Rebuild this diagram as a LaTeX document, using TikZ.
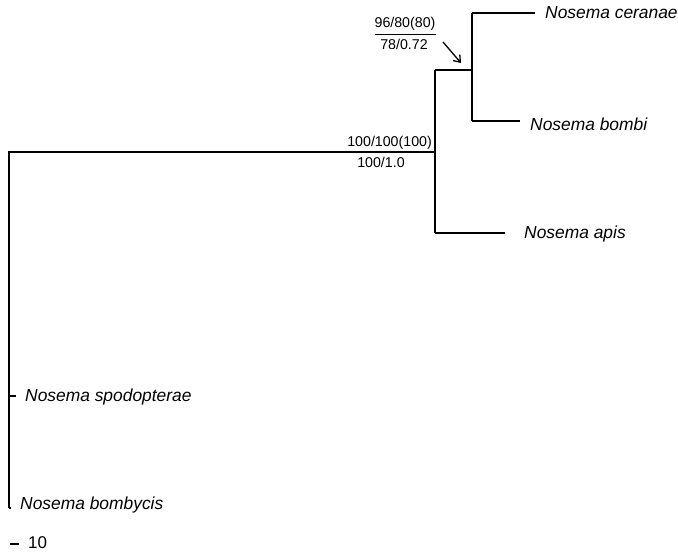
\documentclass[tikz,border=0pt]{standalone}
\usepackage{fontspec}
\usetikzlibrary{arrows.meta}
\setmainfont{Liberation Sans}
\begin{document}
\begin{tikzpicture}[x=1pt,y=-1pt,
  br/.style={line width=1.2pt},
  taxon/.style={anchor=west,inner sep=0pt,font=\fontsize{17.4}{17.4}\selectfont\itshape},
  sup/.style={inner sep=0pt,font=\fontsize{14.2}{14.2}\selectfont}]
\useasboundingbox (0,0) rectangle (678,552);
% coordinates
\coordinate (r) at (9,152);
\coordinate (rb) at (9,508);
\coordinate (a) at (435,152);
\coordinate (at) at (435,70);
\coordinate (ab) at (435,233);
\coordinate (c) at (472,70);
\coordinate (ct) at (472,13);
\coordinate (cb) at (472,121);
\coordinate (sp) at (9,396);
% branches
\draw[br] (rb) -- (r) -- (a);
\draw[br] (at) -- (ab);
\draw[br] (at) -- (c);
\draw[br] (ct) -- (cb);
\node[taxon] (cer) at (545,13) {Nosema ceranae};
\node[taxon] (bom) at (530,124) {Nosema bombi};
\node[taxon] (api) at (524,234) {Nosema apis};
\node[taxon] (spo) at (25,397) {Nosema spodopterae};
\node[taxon] (byc) at (20,505) {Nosema bombycis};
\draw[br] (ct) -- (535,13);
\draw[br] (cb) -- (520,121);
\draw[br] (ab) -- (505,233);
\draw[br] (sp) -- (16,396);
\draw[br] (rb) -- (11,508);
% support values
\node[sup,anchor=east] (s1) at (432,143) {100/100(100)};
\node[sup] (s2) at (381,162) {100/1.0};
\node[sup] (s3) at (405,24) {96/80(80)};
\node[sup] (s4) at (404,44) {78/0.72};
\draw[line width=0.9pt] (375,34) -- (436,34);
\draw[line width=1.3pt,-{Straight Barb[length=6pt,width=9pt]}] (443,42) -- (461,63);
% scale bar
\draw[br] (10,544) -- (19,544);
\node[sup,anchor=west,font=\fontsize{17}{17}\selectfont] (sc) at (28,543) {10};
\end{tikzpicture}
\end{document}
